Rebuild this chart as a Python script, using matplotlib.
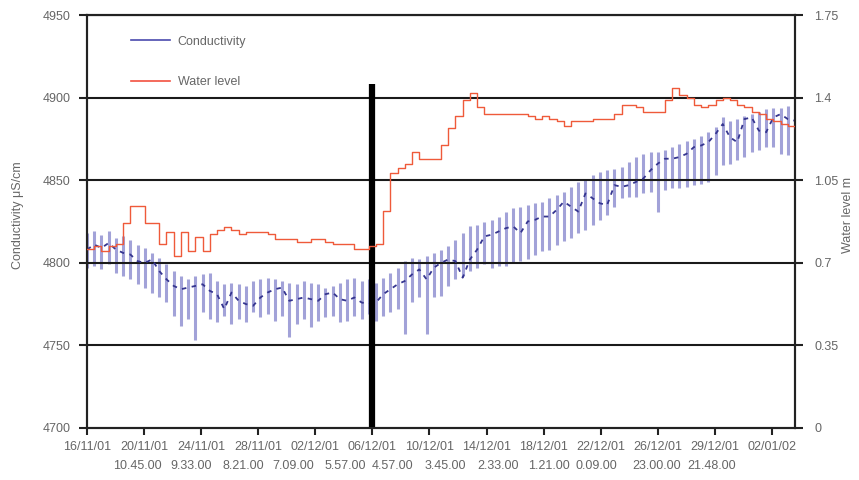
import numpy as np
import matplotlib
matplotlib.use("Agg")
import matplotlib.pyplot as plt
from matplotlib.lines import Line2D
import matplotlib.transforms as mtransforms

plt.rcParams['font.family'] = ['Liberation Sans', 'DejaVu Sans']

# time in days since 16/11/01, half-day sampling
days = np.arange(0, 49.01, 0.5)

cond_mean = [4808, 4811, 4809, 4812, 4808, 4806, 4805, 4801, 4800, 4802,
             4795, 4790, 4786, 4784, 4785, 4786, 4787, 4783, 4781, 4772,
             4782, 4777, 4775, 4774, 4779, 4782, 4784, 4785, 4777, 4778,
             4779, 4778, 4777, 4781, 4782, 4778, 4777, 4779, 4776, 4775,
             4776, 4781, 4784, 4787, 4789, 4793, 4796, 4790, 4797, 4800,
             4802, 4801, 4791, 4802, 4808, 4816, 4817, 4819, 4821, 4822,
             4818, 4825, 4826, 4828, 4828, 4832, 4837, 4834, 4831, 4842,
             4839, 4836, 4835, 4847, 4846, 4847, 4849, 4851, 4856, 4860,
             4863, 4863, 4864, 4866, 4870, 4871, 4873, 4878, 4884, 4876,
             4873, 4887, 4888, 4880, 4879, 4888, 4890, 4887, 4886]
cond_max = [4818, 4819, 4817, 4819, 4815, 4816, 4814, 4811, 4809, 4806,
            4803, 4799, 4795, 4792, 4790, 4792, 4793, 4794, 4789, 4787,
            4788, 4787, 4786, 4789, 4790, 4791, 4790, 4789, 4788, 4787,
            4789, 4788, 4787, 4785, 4786, 4788, 4790, 4791, 4789, 4790,
            4788, 4791, 4794, 4797, 4801, 4803, 4802, 4804, 4806, 4808,
            4810, 4814, 4818, 4822, 4823, 4825, 4826, 4828, 4831, 4833,
            4834, 4835, 4836, 4837, 4839, 4841, 4843, 4846, 4849, 4851,
            4853, 4855, 4856, 4857, 4858, 4861, 4864, 4866, 4867, 4867,
            4868, 4870, 4872, 4874, 4875, 4877, 4879, 4882, 4888, 4886,
            4887, 4889, 4890, 4891, 4893, 4894, 4894, 4895, 4896]
cond_min = [4797, 4798, 4796, 4799, 4794, 4792, 4790, 4787, 4785, 4782,
            4779, 4776, 4768, 4762, 4766, 4753, 4770, 4766, 4764, 4768,
            4763, 4766, 4764, 4770, 4767, 4769, 4765, 4768, 4755, 4763,
            4766, 4761, 4765, 4767, 4768, 4764, 4765, 4768, 4766, 4769,
            4765, 4768, 4770, 4772, 4757, 4776, 4779, 4757, 4779, 4780,
            4786, 4790, 4792, 4795, 4797, 4799, 4797, 4798, 4798, 4800,
            4801, 4802, 4805, 4807, 4808, 4811, 4813, 4815, 4818, 4820,
            4823, 4826, 4829, 4834, 4839, 4840, 4840, 4842, 4843, 4831,
            4844, 4845, 4845, 4846, 4847, 4848, 4849, 4853, 4859, 4860,
            4862, 4864, 4867, 4868, 4870, 4870, 4866, 4865, 4874]
water_level = [0.76, 0.77, 0.75, 0.77, 0.78, 0.87, 0.94, 0.94, 0.87, 0.87,
               0.78, 0.83, 0.73, 0.83, 0.75, 0.81, 0.75, 0.82, 0.84, 0.85,
               0.84, 0.82, 0.83, 0.83, 0.83, 0.82, 0.80, 0.80, 0.80, 0.79,
               0.79, 0.80, 0.80, 0.79, 0.78, 0.78, 0.78, 0.76, 0.76, 0.77,
               0.78, 0.92, 1.08, 1.10, 1.12, 1.17, 1.14, 1.14, 1.14, 1.20,
               1.27, 1.32, 1.39, 1.42, 1.36, 1.33, 1.33, 1.33, 1.33, 1.33,
               1.33, 1.32, 1.31, 1.32, 1.31, 1.30, 1.28, 1.30, 1.30, 1.30,
               1.31, 1.31, 1.31, 1.33, 1.37, 1.37, 1.36, 1.34, 1.34, 1.34,
               1.39, 1.44, 1.41, 1.40, 1.37, 1.36, 1.37, 1.39, 1.40, 1.39,
               1.37, 1.36, 1.34, 1.33, 1.31, 1.30, 1.29, 1.28, 1.27]

tick_days = [0, 3.95, 7.9, 11.85, 15.8, 19.75, 23.7, 27.65, 31.6, 35.55, 39.5, 43.45, 47.4]
tick_dates = ['16/11/01', '20/11/01', '24/11/01', '28/11/01', '02/12/01', '06/12/01',
              '10/12/01', '14/12/01', '18/12/01', '22/12/01', '26/12/01', '29/12/01', '02/01/02']
time_labels = ['10.45.00', '9.33.00', '8.21.00', '7.09.00', '5.57.00', '4.57.00',
               '3.45.00', '2.33.00', '1.21.00', '0.09.00', '23.00.00', '21.48.00']
time_label_days = [3.46, 7.19, 10.79, 14.25, 17.84, 21.16, 24.83, 28.42, 31.95, 35.27, 39.42, 43.22]
marker_day = 19.75
marker_top = 4908

left_ticks = [4700, 4750, 4800, 4850, 4900, 4950]
right_ticks = [0, 0.35, 0.7, 1.05, 1.4, 1.75]
right_labels = ['0', '0.35', '0.7', '1.05', '1.4', '1.75']

fig = plt.figure(figsize=(8.59, 4.80), dpi=100)
ax = fig.add_axes([87/859, 1-428/480, 708/859, 413/480])

tc = '#666666'
blue_bar = '#a2a2d8'
blue_line = '#35358f'
red = '#ef5a3a'

ax.vlines(days, cond_min, cond_max, colors=blue_bar, linewidth=2.2, zorder=2)
ax.plot(days, cond_mean, color=blue_line, linewidth=1.3, linestyle=(0, (2.5, 3)), zorder=3)
ax.plot([marker_day, marker_day], [4700, marker_top], color='black', linewidth=4.5,
        solid_capstyle='butt', zorder=5)

ax.set_xlim(0, 49)
ax.set_ylim(4700, 4950)
ax.set_yticks(left_ticks)
ax.set_yticklabels([str(v) for v in left_ticks])
ax.set_xticks(tick_days)
ax.set_xticklabels(tick_dates)
for y in left_ticks[1:]:
    ax.axhline(y, color='#1a1a1a', linewidth=1.5, zorder=2.5)

trans = mtransforms.blended_transform_factory(ax.transData, ax.transAxes)
for d, t in zip(time_label_days, time_labels):
    ax.text(d, -0.0920, t, transform=trans, ha='center', va='center',
            fontsize=9, color=tc)

ax.tick_params(axis='y', direction='out', length=6, width=1.5, pad=6,
               labelsize=9, colors='#222222')
ax.tick_params(axis='y', labelcolor=tc)
ax.tick_params(axis='x', direction='out', length=5, width=1.5, pad=4,
               labelsize=9, colors='#222222')
ax.tick_params(axis='x', labelcolor=tc)
for s in ['left', 'bottom', 'right', 'top']:
    ax.spines[s].set_linewidth(1.5)
    ax.spines[s].set_color('#222222')

ax2 = ax.twinx()
ax2.step(days, water_level, where='post', color=red, linewidth=1.0, zorder=4)
ax2.set_ylim(0, 1.75)
ax2.set_yticks(right_ticks)
ax2.set_yticklabels(right_labels)
ax2.tick_params(axis='y', direction='out', length=6, width=1.5, pad=8,
                labelsize=9, colors='#222222')
ax2.tick_params(axis='y', labelcolor=tc)
for s in ['left', 'bottom', 'right', 'top']:
    ax2.spines[s].set_linewidth(1.5)
    ax2.spines[s].set_color('#222222')

handles = [Line2D([], [], color='#4a4aae', linewidth=1.2),
           Line2D([], [], color='#f25040', linewidth=1.2)]
ax.legend(handles, ['Conductivity', 'Water level'], loc='upper left',
          bbox_to_anchor=(0.054, 0.965), frameon=False, fontsize=9,
          labelspacing=2.3, handlelength=3.1, handletextpad=0.6, borderpad=0,
          labelcolor=tc)

fig.text(18/859, 1-215/480, 'Conductivity μS/cm', rotation=90, ha='center', va='center',
         fontsize=9, color=tc)
fig.text(848/859, 1-215/480, 'Water level m', rotation=90, ha='center', va='center',
         fontsize=9, color=tc)

fig.savefig('out.png', dpi=100)
